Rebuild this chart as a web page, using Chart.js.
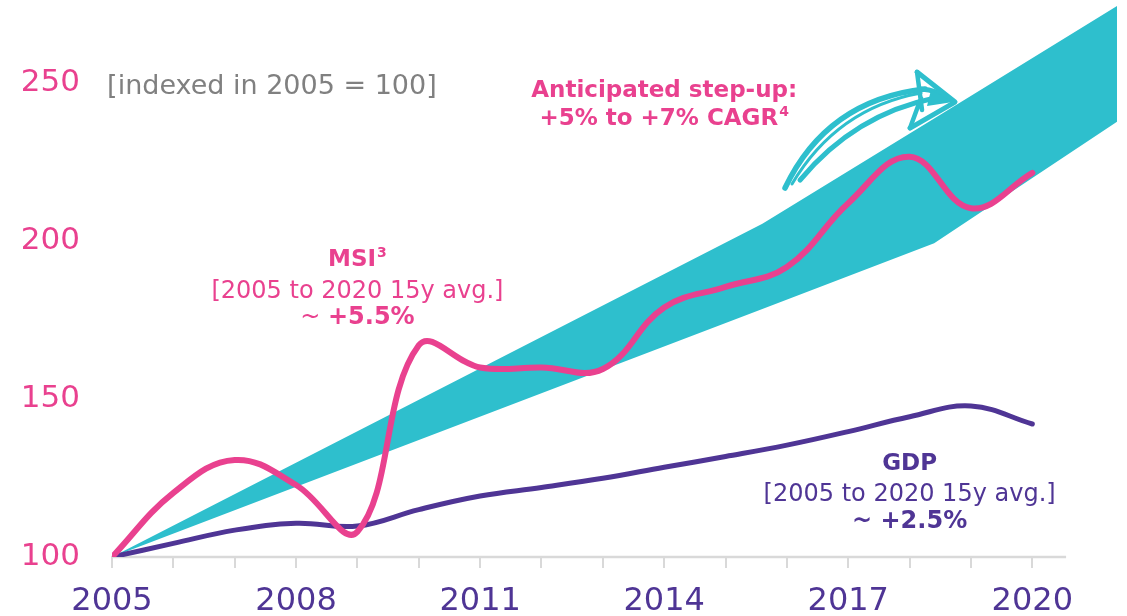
<!DOCTYPE html>
<html>
<head>
<meta charset="utf-8">
<title>MSI vs GDP, indexed 2005 = 100</title>
<script src="https://cdn.jsdelivr.net/npm/chart.js@4.4.0/dist/chart.umd.min.js"></script>
<style>
  html, body { margin: 0; padding: 0; background: #fff; }
  #wrap { width: 1127px; height: 616px; }
</style>
</head>
<body>
<div id="wrap"><canvas id="chart" width="1127" height="616"></canvas></div>
<script>
// index values, 2005 = 100
const years = [2005, 2006, 2007, 2008, 2009, 2010, 2011, 2012, 2013, 2014, 2015, 2016, 2017, 2018, 2019, 2020];
const msiValues = [100, 120.3, 130.7, 122.8, 108, 167, 160, 160, 159.5, 179, 185.5, 191.8, 212, 226.7, 210.4, 221.6];
const gdpValues = [100, 104.3, 108.5, 110.7, 109.8, 115, 119.3, 122.0, 124.9, 128.4, 131.8, 135.4, 139.7, 144.4, 147.8, 142.1];

// anticipated step-up corridor (+5% .. +7%)
const bandYears = [2005, 2015.6, 2018.4, 2021.38];
const bandHigh = [100, 205.5, 238.8, 274.4];
const bandLow = [100, 178.5, 199.3, 237.8];

const yTickValues = [100, 150, 200, 250];
const xLabelYears = [2005, 2008, 2011, 2014, 2017, 2020];

const PINK = '#e9418f';
const PURPLE = '#4f3595';
const TEAL = '#2ebfcd';
const GREY = '#808080';
const AXIS = '#d9d9d9';
const FONT = "'DejaVu Sans', Verdana, sans-serif";

const toPoints = (xs, ys) => xs.map((x, i) => ({ x: x, y: ys[i] }));

// text blocks, anchored in data units (center x, baseline values)
const notes = [
    { color: GREY, align: 'left', x: 2004.92, lines: [
        { y: 246.7, parts: [{ t: '[indexed in 2005 = 100]', size: 27 }] }
    ] },
    { color: PINK, align: 'center', x: 2014.0, lines: [
        { y: 245.5, parts: [{ t: 'Anticipated step-up:', size: 23, bold: true }] },
        { y: 236.7, parts: [{ t: '+5% to +7% CAGR', size: 23, bold: true }, { t: '4', size: 14, bold: true, sup: true }] }
    ] },
    { color: PINK, align: 'center', x: 2009.0, lines: [
        { y: 192.1, parts: [{ t: 'MSI', size: 23, bold: true }, { t: '3', size: 14, bold: true, sup: true }] },
        { y: 182.0, parts: [{ t: '[2005 to 2020 15y avg.]', size: 24 }] },
        { y: 173.7, parts: [{ t: '~ ', size: 24 }, { t: '+5.5%', size: 24, bold: true }] }
    ] },
    { color: PURPLE, align: 'center', x: 2018.0, lines: [
        { y: 127.5, parts: [{ t: 'GDP', size: 23, bold: true }] },
        { y: 117.8, parts: [{ t: '[2005 to 2020 15y avg.]', size: 24 }] },
        { y: 109.3, parts: [{ t: '~ +2.5%', size: 24, bold: true }] }
    ] }
];

function partFont(p) {
    return (p.bold ? 'bold ' : '') + p.size + 'px ' + FONT;
}

// draws the grey baseline up to just past 2020
const baselinePlugin = {
    id: 'baseline',
    beforeDatasetsDraw(chart) {
        const { ctx, scales: { x }, chartArea } = chart;
        ctx.save();
        ctx.strokeStyle = AXIS;
        ctx.lineWidth = 2.5;
        ctx.beginPath();
        ctx.moveTo(x.getPixelForValue(2005) - 1, chartArea.bottom);
        ctx.lineTo(x.getPixelForValue(2020.55), chartArea.bottom);
        ctx.stroke();
        ctx.restore();
    }
};

// labels + the hand-drawn arrow
const notesPlugin = {
    id: 'notes',
    afterDatasetsDraw(chart) {
        const { ctx, scales: { x, y } } = chart;
        ctx.save();
        ctx.textBaseline = 'alphabetic';
        notes.forEach(n => {
            ctx.fillStyle = n.color;
            n.lines.forEach(line => {
                let total = 0;
                line.parts.forEach(p => {
                    ctx.font = partFont(p);
                    p.w = ctx.measureText(p.t).width + (p.sup ? 1 : 0);
                    total += p.w;
                });
                let cx = x.getPixelForValue(n.x);
                let px = n.align === 'center' ? cx - total / 2 : cx;
                const base = y.getPixelForValue(line.y);
                line.parts.forEach(p => {
                    ctx.font = partFont(p);
                    ctx.textAlign = 'left';
                    ctx.fillText(p.t, px + (p.sup ? 1 : 0), base - (p.sup ? 9 : 0));
                    px += p.w;
                });
            });
        });

        // arrow, tip anchored on the upper corridor edge
        const tx = x.getPixelForValue(2018.74);
        const ty = y.getPixelForValue(244);
        const P = (dx, dy) => [tx + dx, ty + dy];
        ctx.strokeStyle = TEAL;
        ctx.fillStyle = TEAL;
        ctx.lineCap = 'round';
        ctx.lineJoin = 'round';
        const curve = (a, c, b, w) => {
            ctx.lineWidth = w;
            ctx.beginPath();
            ctx.moveTo(...P(...a));
            ctx.quadraticCurveTo(...P(...c), ...P(...b));
            ctx.stroke();
        };
        curve([-170, 86], [-128, -2], [-30, -13], 5.5);
        curve([-155, 78], [-100, 12], [-20, -4], 5);
        curve([-163, 82], [-118, 6], [-34, -9], 3);
        // shaft tip joins the head
        curve([-34, -13], [-18, -12], [-4, -2], 5);
        ctx.lineWidth = 5;
        ctx.beginPath();
        ctx.moveTo(...P(-38, -30));
        ctx.lineTo(...P(0, 0));
        ctx.lineTo(...P(-45, 26));
        ctx.stroke();
        ctx.lineWidth = 4.5;
        ctx.beginPath();
        ctx.moveTo(...P(-38, -30));
        ctx.lineTo(...P(-33, 8));
        ctx.moveTo(...P(-45, 26));
        ctx.lineTo(...P(-34, -4));
        ctx.stroke();
        // filled wedge near the tip
        ctx.beginPath();
        ctx.moveTo(...P(-2, 0));
        ctx.lineTo(...P(-24, -12));
        ctx.lineTo(...P(-28, 4));
        ctx.closePath();
        ctx.fill();
        ctx.restore();
    }
};

const ctx = document.getElementById('chart').getContext('2d');
const chart = new Chart(ctx, {
    type: 'line',
    data: {
        datasets: [
            {
                label: 'MSI',
                data: toPoints(years, msiValues),
                borderColor: PINK,
                borderWidth: 6,
                borderCapStyle: 'round',
                tension: 0.4,
                pointRadius: 0,
                fill: false,
                order: 0
            },
            {
                label: 'GDP',
                data: toPoints(years, gdpValues),
                borderColor: PURPLE,
                borderWidth: 5,
                borderCapStyle: 'round',
                tension: 0.4,
                pointRadius: 0,
                fill: false,
                order: 1
            },
            {
                label: 'step-up high',
                data: toPoints(bandYears, bandHigh),
                borderColor: 'rgba(0,0,0,0)',
                borderWidth: 0,
                backgroundColor: TEAL,
                tension: 0,
                pointRadius: 0,
                fill: '+1',
                order: 2
            },
            {
                label: 'step-up low',
                data: toPoints(bandYears, bandLow),
                borderColor: 'rgba(0,0,0,0)',
                borderWidth: 0,
                tension: 0,
                pointRadius: 0,
                fill: false,
                order: 3
            }
        ]
    },
    options: {
        responsive: false,
        animation: false,
        layout: { padding: { left: 0, right: 10, top: 0, bottom: 0 } },
        plugins: {
            legend: { display: false },
            tooltip: { enabled: false }
        },
        scales: {
            x: {
                type: 'linear',
                min: 2005,
                max: 2021.38,
                border: { display: false },
                grid: {
                    drawOnChartArea: false,
                    drawTicks: true,
                    tickLength: 11,
                    color: AXIS,
                    lineWidth: 2
                },
                afterBuildTicks: s => { s.ticks = years.map(v => ({ value: v })); },
                afterFit: s => { s.height = 59; s.paddingLeft = 0; s.paddingRight = 0; },
                ticks: {
                    autoSkip: false,
                    maxRotation: 0,
                    padding: 14,
                    color: PURPLE,
                    font: { family: FONT, size: 32 },
                    callback: v => xLabelYears.includes(v) ? String(v) : ''
                }
            },
            y: {
                min: 100,
                max: 276.3,
                border: { display: false },
                grid: { display: false, drawTicks: false },
                afterBuildTicks: s => { s.ticks = yTickValues.map(v => ({ value: v })); },
                afterFit: s => { s.width = 112; s.paddingTop = 0; s.paddingBottom = 0; },
                ticks: {
                    padding: 32,
                    color: PINK,
                    font: { family: FONT, size: 31 },
                    callback: v => String(v)
                }
            }
        }
    },
    plugins: [baselinePlugin, notesPlugin]
});
</script>
</body>
</html>
